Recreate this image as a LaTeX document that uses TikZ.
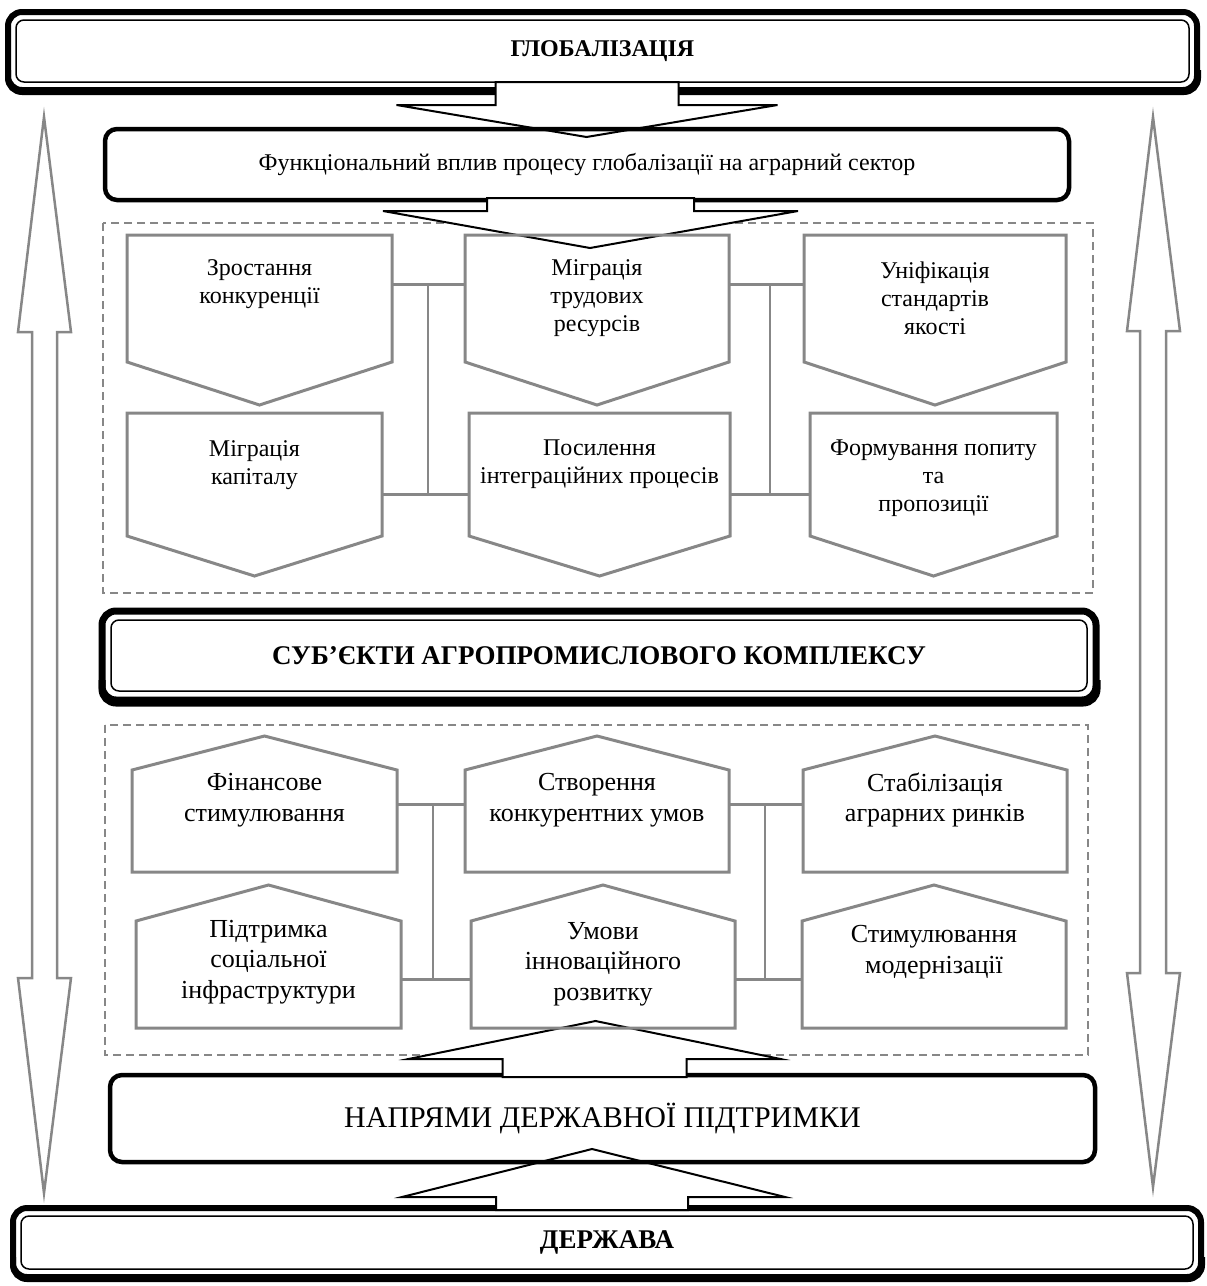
\documentclass[tikz,border=0pt]{standalone}
\usepackage{fontspec}
\setmainfont{Liberation Serif}
\usetikzlibrary{calc}
\definecolor{lgray}{HTML}{878787}
\tikzstyle{dblbox} = [draw=black, line width=6pt, rounded corners=14pt, inner sep=0pt, outer sep=0pt]
\tikzstyle{boldbox} = [draw=black, line width=4.5pt, rounded corners=12pt, inner sep=0pt, outer sep=0pt]
\tikzstyle{innerline} = [draw=black, line width=1.5pt, rounded corners=8pt]
\tikzstyle{heavy} = [draw=black, line width=6pt, rounded corners=14pt]
\tikzstyle{blockarr} = [draw=black, line width=2pt, fill=white, line join=miter]
\tikzstyle{sidearr} = [draw=lgray, line width=2.5pt]
\tikzstyle{pbody} = [inner sep=0pt, outer sep=0pt]
\tikzstyle{pent} = [draw=lgray, line width=3pt]
\tikzstyle{link} = [draw=lgray, line width=3pt]
\tikzstyle{vlink} = [draw=lgray, line width=2pt]
\tikzstyle{dashbox} = [draw=lgray, line width=2pt, dash pattern=on 8pt off 5pt]
\tikzstyle{uptxt} = [align=center, font=\fontsize{24}{28}\selectfont]
\tikzstyle{lowtxt} = [align=center, font=\fontsize{26}{30.5}\selectfont]

\begin{document}
\begin{tikzpicture}[x=1pt, y=-1pt]
  \useasboundingbox (0,0) rectangle (1207,1286);

  % side arrows
  \draw [sidearr] (44,117) -- (71,332) -- (57,332) -- (57,978) -- (71,978) -- (44,1193) -- (18,978) -- (32,978) -- (32,332) -- (18,332) -- cycle;
  \draw [sidearr] (1153,117) -- (1180,331) -- (1166,331) -- (1166,973) -- (1180,973) -- (1153,1187) -- (1127,973) -- (1140,973) -- (1140,331) -- (1127,331) -- cycle;

  % globalisation
  \node (glob) at (602.5,51) [dblbox, minimum width=1189pt, minimum height=78pt, font=\bfseries\fontsize{24}{28}\selectfont] {ГЛОБАЛІЗАЦІЯ};
  \draw [innerline] ([shift={(8,8)}]glob.north west) rectangle ([shift={(-8,-8)}]glob.south east);
  \draw [heavy] ([shift={(0,-20)}]glob.south west) -- ([shift={(0,2)}]glob.south west) -- ([shift={(1,2)}]glob.south east) -- ([shift={(1,-20)}]glob.south east);
  \draw [blockarr] ($(glob.south)+(-107,-8)$) -- ++(0,23) -- ++(-99,0) -- ($(glob.south)+(-16,47)$) -- ($(glob.south)+(175,15)$) -- ++(-99,0) -- ++(0,-23) -- cycle;

  \node (fv) at (587,164.5) [boldbox, minimum width=964pt, minimum height=71pt, font=\fontsize{24}{28}\selectfont] {Функціональний вплив процесу глобалізації на аграрний сектор};

  \draw [dashbox] (103,223) rectangle (1093,593);
  \draw [blockarr] ($(fv.south)+(-100,-2)$) -- ++(0,13) -- ++(-104,0) -- ($(fv.south)+(3,48)$) -- ($(fv.south)+(211,11)$) -- ++(-104,0) -- ++(0,-13) -- cycle;

  % upper row
  \node (zr) at (259.5,298.5) [pbody, minimum width=265pt, minimum height=127pt] {};
  \draw [pent] (zr.south west) -- (zr.north west) -- (zr.north east) -- (zr.south east) -- ($(zr.south)+(0,43)$) -- cycle;
  \node (zrt) at (259.5,284) [uptxt] {Зростання\\конкуренції};
  \node (mt) at (597,298.5) [pbody, minimum width=264pt, minimum height=127pt] {};
  \draw [pent] (mt.south west) -- (mt.north west) -- (mt.north east) -- (mt.south east) -- ($(mt.south)+(0,43)$) -- cycle;
  \node (mtt) at (597,298) [uptxt] {Міграція\\трудових\\ресурсів};
  \node (un) at (935,298.5) [pbody, minimum width=262pt, minimum height=127pt] {};
  \draw [pent] (un.south west) -- (un.north west) -- (un.north east) -- (un.south east) -- ($(un.south)+(0,43)$) -- cycle;
  \node (unt) at (935,298) [uptxt] {Уніфікація\\стандартів\\якості};

  \node (mk) at (254.5,474.5) [pbody, minimum width=255pt, minimum height=123pt] {};
  \draw [pent] (mk.south west) -- (mk.north west) -- (mk.north east) -- (mk.south east) -- ($(mk.south)+(0,40)$) -- cycle;
  \node (mkt) at (254.5,465) [uptxt] {Міграція\\капіталу};
  \node (ps) at (599.5,474.5) [pbody, minimum width=261pt, minimum height=123pt] {};
  \draw [pent] (ps.south west) -- (ps.north west) -- (ps.north east) -- (ps.south east) -- ($(ps.south)+(0,40)$) -- cycle;
  \node (pst) at (599.5,464) [uptxt] {Посилення\\інтеграційних процесів};
  \node (fm) at (933.5,474.5) [pbody, minimum width=247pt, minimum height=123pt] {};
  \draw [pent] (fm.south west) -- (fm.north west) -- (fm.north east) -- (fm.south east) -- ($(fm.south)+(0,40)$) -- cycle;
  \node (fmt) at (933.5,478) [uptxt] {Формування попиту\\та\\пропозиції};

  \coordinate (ul) at (428,284);
  \coordinate (ll) at (428,494);
  \coordinate (ur) at (770,284);
  \coordinate (lr) at (770,494);
  \draw [link] (zr.east |- ul) -- (mt.west |- ul);
  \draw [link] (mk.east |- ll) -- (ps.west |- ll);
  \draw [vlink] (ul) -- (ll);
  \draw [link] (mt.east |- ur) -- (un.west |- ur);
  \draw [link] (ps.east |- lr) -- (fm.west |- lr);
  \draw [vlink] (ur) -- (lr);

  % subjects
  \node (sub) at (599,655.5) [dblbox, line width=7pt, minimum width=994pt, minimum height=89pt, font=\bfseries\fontsize{27}{32}\selectfont] {СУБ’ЄКТИ АГРОПРОМИСЛОВОГО КОМПЛЕКСУ};
  \draw [innerline] ([shift={(9,9)}]sub.north west) rectangle ([shift={(-9,-9)}]sub.south east);
  \draw [heavy, line width=7pt] ([shift={(0,-20)}]sub.south west) -- ([shift={(0,3)}]sub.south west) -- ([shift={(1,3)}]sub.south east) -- ([shift={(1,-20)}]sub.south east);

  % state
  \node (derzh) at (607,1242.5) [dblbox, minimum width=1188pt, minimum height=69pt, font=\bfseries\fontsize{27}{32}\selectfont] {ДЕРЖАВА};
  \draw [innerline] ([shift={(8,8)}]derzh.north west) rectangle ([shift={(-8,-8)}]derzh.south east);
  \draw [heavy] ([shift={(0,-20)}]derzh.south west) -- ([shift={(0,2)}]derzh.south west) -- ([shift={(1,2)}]derzh.south east) -- ([shift={(1,-20)}]derzh.south east);
  \draw [blockarr] ($(derzh.north)+(-111,2)$) -- ++(0,-13) -- ++(-94,0) -- ($(derzh.north)+(-15,-59)$) -- ($(derzh.north)+(178,-11)$) -- ++(-97,0) -- ++(0,13) -- cycle;

  \node (napr) at (602.5,1118.5) [boldbox, minimum width=985pt, minimum height=87pt, font=\fontsize{30}{36}\selectfont] {НАПРЯМИ ДЕРЖАВНОЇ ПІДТРИМКИ};

  \draw [dashbox] (105,725) rectangle (1088,1055);
  \draw [blockarr] ($(napr.north)+(-100,2)$) -- ++(0,-18) -- ++(-94,0) -- ($(napr.north)+(-7,-54)$) -- ($(napr.north)+(178,-16)$) -- ++(-94,0) -- ++(0,18) -- cycle;

  % lower row
  \node (fn) at (264.5,821) [pbody, minimum width=265pt, minimum height=102pt] {};
  \draw [pent] (fn.north west) -- (fn.south west) -- (fn.south east) -- (fn.north east) -- ($(fn.north)+(0,-34)$) -- cycle;
  \node (fnt) at (264.5,800) [lowtxt] {Фінансове\\стимулювання};
  \node (sv) at (597,821) [pbody, minimum width=264pt, minimum height=102pt] {};
  \draw [pent] (sv.north west) -- (sv.south west) -- (sv.south east) -- (sv.north east) -- ($(sv.north)+(0,-34)$) -- cycle;
  \node (svt) at (597,800) [lowtxt] {Створення\\конкурентних умов};
  \node (sb) at (935,821) [pbody, minimum width=264pt, minimum height=102pt] {};
  \draw [pent] (sb.north west) -- (sb.south west) -- (sb.south east) -- (sb.north east) -- ($(sb.north)+(0,-34)$) -- cycle;
  \node (sbt) at (935,800) [lowtxt] {Стабілізація\\аграрних ринків};

  \node (pd) at (268.5,974.5) [pbody, minimum width=265pt, minimum height=107pt] {};
  \draw [pent] (pd.north west) -- (pd.south west) -- (pd.south east) -- (pd.north east) -- ($(pd.north)+(0,-36)$) -- cycle;
  \node (pdt) at (268.5,962) [lowtxt] {Підтримка\\соціальної\\інфраструктури};
  \node (um) at (603,974.5) [pbody, minimum width=264pt, minimum height=107pt] {};
  \draw [pent] (um.north west) -- (um.south west) -- (um.south east) -- (um.north east) -- ($(um.north)+(0,-36)$) -- cycle;
  \node (umt) at (603,964) [lowtxt] {Умови\\інноваційного\\розвитку};
  \node (sm) at (934,974.5) [pbody, minimum width=264pt, minimum height=107pt] {};
  \draw [pent] (sm.north west) -- (sm.south west) -- (sm.south east) -- (sm.north east) -- ($(sm.north)+(0,-36)$) -- cycle;
  \node (smt) at (934,952) [lowtxt] {Стимулювання\\модернізації};

  \coordinate (ul2) at (433,804);
  \coordinate (ll2) at (433,979);
  \coordinate (ur2) at (765,804);
  \coordinate (lr2) at (765,979);
  \draw [link] (fn.east |- ul2) -- (sv.west |- ul2);
  \draw [link] (pd.east |- ll2) -- (um.west |- ll2);
  \draw [vlink] (ul2) -- (ll2);
  \draw [link] (sv.east |- ur2) -- (sb.west |- ur2);
  \draw [link] (um.east |- lr2) -- (sm.west |- lr2);
  \draw [vlink] (ur2) -- (lr2);
\end{tikzpicture}
\end{document}
